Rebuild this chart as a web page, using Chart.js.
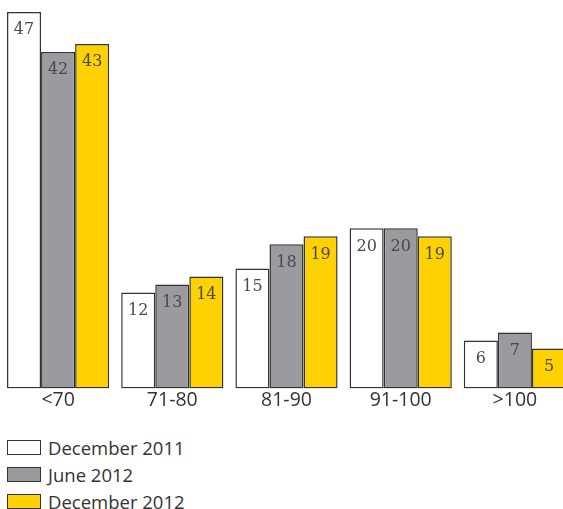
<!DOCTYPE html>
<html>
<head>
<meta charset="utf-8">
<script src="https://cdn.jsdelivr.net/npm/chart.js@4/dist/chart.umd.min.js"></script>
<style>
  html, body { margin: 0; padding: 0; background: #fff; overflow: hidden; }
  #wrap { position: relative; width: 572px; height: 412px; }
  #legend { list-style: none; margin: 0; padding: 0; position: absolute; left: 7px; top: 434px;
            font-family: "Open Sans", sans-serif; font-size: 18.5px; color: #333; }
  #legend li { display: flex; align-items: center; height: 27px; }
  #legend span.box { display: inline-block; box-sizing: border-box; width: 34px; height: 15px; border: 1.5px solid #333; margin-right: 7px; }
</style>
</head>
<body>
<div id="wrap"><canvas id="c"></canvas></div>
<ul id="legend"></ul>
<script>
// Speed bands and survey results per period
const categories = ['<70', '71-80', '81-90', '91-100', '>100'];
const dec2011 = [47, 12, 15, 20, 6];
const jun2012 = [42, 13, 18, 20, 7];
const dec2012 = [43, 14, 19, 19, 5];
const seriesNames = ['December 2011', 'June 2012', 'December 2012'];
const seriesColors = ['#ffffff', '#9b9b9f', '#ffd100'];

// Writes each bar's value just inside its top edge
const valueLabels = {
  id: 'valueLabels',
  afterDatasetsDraw(chart) {
    const ctx = chart.ctx;
    ctx.save();
    ctx.font = '16px "DejaVu Serif", serif';
    ctx.fillStyle = '#4a4a4a';
    ctx.textAlign = 'center';
    ctx.textBaseline = 'middle';
    chart.data.datasets.forEach((ds, i) => {
      chart.getDatasetMeta(i).data.forEach((bar, j) => {
        ctx.fillText(String(ds.data[j]), bar.x, bar.y + 18);
      });
    });
    ctx.restore();
  }
};

const chart = new Chart(document.getElementById('c'), {
  type: 'bar',
  data: {
    labels: categories,
    datasets: [dec2011, jun2012, dec2012].map((d, i) => ({
      label: seriesNames[i],
      data: d,
      backgroundColor: seriesColors[i],
      borderColor: '#333',
      borderWidth: 1.5,
      borderSkipped: false,
      categoryPercentage: 0.895,
      barPercentage: 1.0
    }))
  },
  options: {
    responsive: true,
    maintainAspectRatio: false,
    animation: false,
    layout: { padding: { top: 12, left: 1, right: 0, bottom: 0 } },
    plugins: { legend: { display: false }, tooltip: { enabled: false } },
    scales: {
      x: {
        grid: { display: false, drawTicks: false },
        border: { display: false },
        ticks: { color: '#333', font: { family: '"Open Sans", sans-serif', size: 19.5 }, padding: 0 }
      },
      y: { display: false, min: 0, max: 47 }
    }
  },
  plugins: [valueLabels]
});

// Vertical legend list built from the chart's datasets
const legend = document.getElementById('legend');
chart.data.datasets.forEach(ds => {
  const li = document.createElement('li');
  const box = document.createElement('span');
  box.className = 'box';
  box.style.background = ds.backgroundColor;
  li.appendChild(box);
  li.appendChild(document.createTextNode(ds.label));
  legend.appendChild(li);
});
</script>
</body>
</html>
